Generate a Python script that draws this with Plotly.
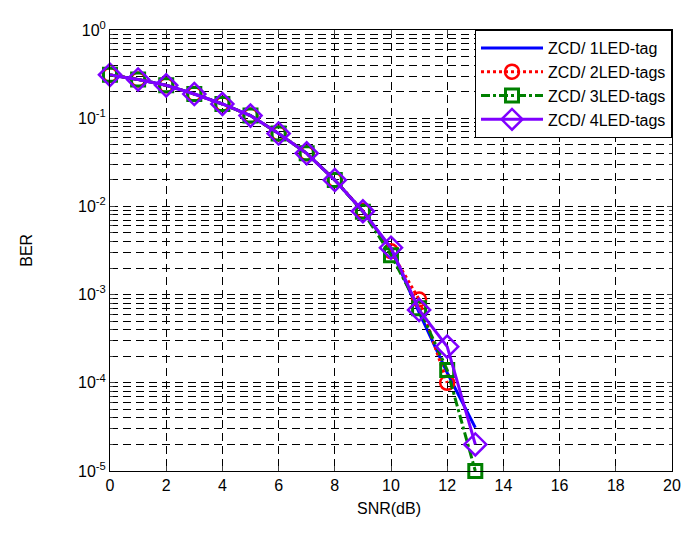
import plotly.graph_objects as go

snr = [0, 1, 2, 3, 4, 5, 6, 7, 8, 9, 10, 11, 12, 13]
snr_red = [0, 1, 2, 3, 4, 5, 6, 7, 8, 9, 10, 11, 12]

ber_1led = [0.31, 0.275, 0.236, 0.188, 0.145, 0.107, 0.067, 0.040, 0.0199, 0.0088, 0.0033, 0.00063, 0.00013, 0.000031]
ber_2led = [0.31, 0.275, 0.236, 0.188, 0.145, 0.107, 0.067, 0.040, 0.0199, 0.0089, 0.0031, 0.00088, 0.0001]
ber_3led = [0.31, 0.275, 0.236, 0.188, 0.145, 0.107, 0.067, 0.040, 0.0199, 0.0087, 0.0028, 0.0007, 0.00014, 0.00001]
ber_4led = [0.31, 0.275, 0.236, 0.188, 0.145, 0.107, 0.067, 0.040, 0.0199, 0.0088, 0.0034, 0.00067, 0.000257, 0.00002]

names = ["ZCD/ 1LED-tag", "ZCD/ 2LED-tags", "ZCD/ 3LED-tags", "ZCD/ 4LED-tags"]

x_ticks = [0, 2, 4, 6, 8, 10, 12, 14, 16, 18, 20]
y_tick_vals = [1e-5, 1e-4, 1e-3, 1e-2, 1e-1, 1e0]
y_tick_text = ["10<sup>-5</sup>", "10<sup>-4</sup>", "10<sup>-3</sup>", "10<sup>-2</sup>", "10<sup>-1</sup>", "10<sup>0</sup>"]
x_title = "SNR(dB)"
y_title = "BER"

font_family = "Liberation Sans, Arial, sans-serif"

fig = go.Figure()
fig.add_trace(go.Scatter(x=snr, y=ber_1led, name=names[0], mode="lines", cliponaxis=False,
                         line=dict(color="#0000FF", width=3)))
fig.add_trace(go.Scatter(x=snr_red, y=ber_2led, name=names[1], mode="lines+markers", cliponaxis=False,
                         line=dict(color="#FF0000", width=3, dash="dot"),
                         marker=dict(symbol="circle-open", size=14, line=dict(color="#FF0000", width=2.5))))
fig.add_trace(go.Scatter(x=snr, y=ber_3led, name=names[2], mode="lines+markers", cliponaxis=False,
                         line=dict(color="#008000", width=3, dash="dashdot"),
                         marker=dict(symbol="square-open", size=13, line=dict(color="#008000", width=3))))
fig.add_trace(go.Scatter(x=snr, y=ber_4led, name=names[3], mode="lines+markers", cliponaxis=False,
                         line=dict(color="#7F00FF", width=3),
                         marker=dict(symbol="diamond-open", size=17, line=dict(color="#7F00FF", width=2.5))))

grid_dash = "8px,5px"
fig.update_layout(
    width=695, height=534,
    margin=dict(l=102, r=31, t=22, b=71),
    paper_bgcolor="white", plot_bgcolor="white",
    font=dict(family=font_family, size=16, color="black"),
    showlegend=True,
    legend=dict(x=1, y=1, xanchor="right", yanchor="top",
                bordercolor="black", borderwidth=1, bgcolor="white",
                font=dict(size=16), itemwidth=62),
    xaxis=dict(range=[0, 20], tickvals=x_ticks, ticks="inside", ticklen=5,
               showline=True, linecolor="black", linewidth=1, mirror="allticks",
               showgrid=True, gridcolor="black", gridwidth=0.6, griddash=grid_dash,
               zeroline=False, automargin=False, tickfont=dict(size=16)),
    yaxis=dict(type="log", range=[-5, 0], tickvals=y_tick_vals, ticktext=y_tick_text,
               ticks="inside", ticklen=5,
               showline=True, linecolor="black", linewidth=1, mirror="allticks",
               showgrid=True, gridcolor="black", gridwidth=0.6, griddash=grid_dash,
               zeroline=False, automargin=False, tickfont=dict(size=16),
               minor=dict(dtick="D1", showgrid=True, gridcolor="black", gridwidth=0.6,
                          griddash=grid_dash, ticks="inside", ticklen=3)),
    annotations=[
        dict(text=x_title, xref="paper", yref="paper", x=0.496, y=-0.084,
             xanchor="center", yanchor="middle", showarrow=False, font=dict(size=16)),
        dict(text=y_title, xref="paper", yref="paper", x=-0.149, y=0.5, textangle=-90,
             xanchor="center", yanchor="middle", showarrow=False, font=dict(size=16)),
    ],
)

fig.write_html("out.html")
